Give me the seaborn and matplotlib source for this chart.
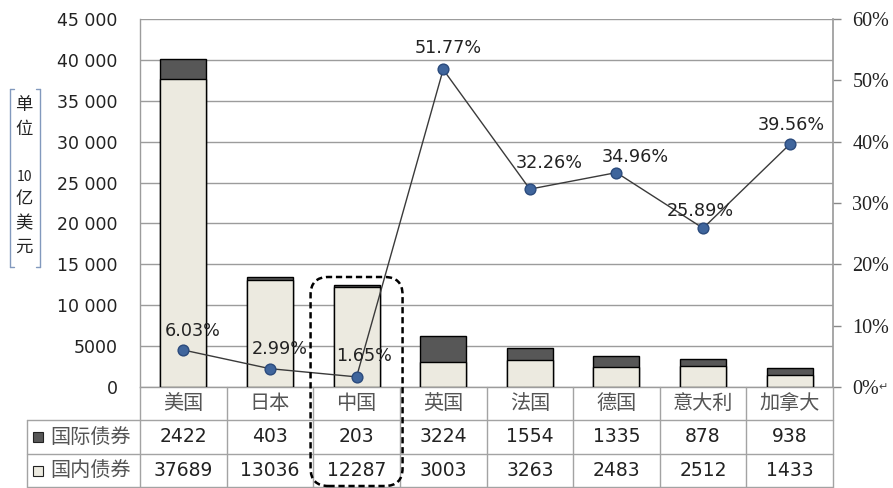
import numpy as np
import pandas as pd
import seaborn as sns
import matplotlib
matplotlib.use("Agg")
import matplotlib.pyplot as plt
from matplotlib.patches import FancyBboxPatch, Rectangle
from matplotlib.lines import Line2D

# ---------------- data ----------------
categories = ["美国", "日本", "中国", "英国", "法国", "德国", "意大利", "加拿大"]
intl_bonds = [2422, 403, 203, 3224, 1554, 1335, 878, 938]
domestic_bonds = [37689, 13036, 12287, 3003, 3263, 2483, 2512, 1433]
intl_share_pct = [6.03, 2.99, 1.65, 51.77, 32.26, 34.96, 25.89, 39.56]
left_ticks = [0, 5000, 10000, 15000, 20000, 25000, 30000, 35000, 40000, 45000]
left_tick_labels = ["0", "5000", "10 000", "15 000", "20 000", "25 000",
                    "30 000", "35 000", "40 000", "45 000"]
right_ticks = [0, 10, 20, 30, 40, 50, 60]
right_tick_labels = ["0%", "10%", "20%", "30%", "40%", "50%", "60%"]
row_labels = ["国际债券", "国内债券"]
ylabel_chars = ["单", "位", "10", "亿", "美", "元"]

# label offsets (pixels) for the percentage annotations
label_dx = [9, 10, 8, 5, 19, 19, -3, 2]
label_dy = [19, 20, 21, 21, 26, 16, 17, 19]

# ---------------- style ----------------
sns.set_theme(style="white")
plt.rcParams["font.family"] = ["DejaVu Sans", "Noto Sans CJK SC"]
CJK = ["Noto Sans CJK SC", "DejaVu Sans"]

W, H = 893, 488
fig = plt.figure(figsize=(W / 100, H / 100), dpi=100)
fig.patch.set_facecolor("white")


def fx(px):
    return px / W


def fy(py):
    return 1 - py / H


AX_L, AX_R, AX_T, AX_B = 140, 833, 19, 387
ax = fig.add_axes([fx(AX_L), fy(AX_B), fx(AX_R) - fx(AX_L), fy(AX_T) - fy(AX_B)])

df = pd.DataFrame({"country": categories, "intl": intl_bonds,
                   "dom": domestic_bonds, "pct": intl_share_pct})
df["total"] = df["intl"] + df["dom"]

GRID = "#9c9c9c"
TBL = "#a3a3a3"
DARK = "#575757"
LIGHT = "#ECEAE0"

sns.barplot(data=df, x="country", y="total", color=DARK, edgecolor="black",
            linewidth=1, width=0.53, saturation=1, ax=ax, zorder=2)
sns.barplot(data=df, x="country", y="dom", color=LIGHT, edgecolor="black",
            linewidth=1, width=0.53, saturation=1, ax=ax, zorder=3)

ax.set_xlim(-0.5, len(categories) - 0.5)
ax.set_ylim(0, 45000)
ax.set_yticks(left_ticks)
ax.set_yticklabels(left_tick_labels, fontsize=12.5, color="#222222")
ax.yaxis.grid(True, color=GRID, lw=1)
ax.xaxis.grid(False)
ax.set_axisbelow(True)
ax.set_xlabel("")
ax.set_ylabel("")
ax.tick_params(axis="x", length=0, labelbottom=False)
ax.tick_params(axis="y", length=0, pad=16)
for s in ["top", "right"]:
    ax.spines[s].set_visible(False)
for s in ["left", "bottom"]:
    ax.spines[s].set_color(GRID)
    ax.spines[s].set_linewidth(1)

# ---------------- line on right axis ----------------
ax2 = ax.twinx()
sns.lineplot(data=df, x="country", y="pct", ax=ax2, color="#3a3a3a", lw=1,
             sort=False, zorder=4)
sns.scatterplot(data=df, x="country", y="pct", ax=ax2, color="#3F659C",
                edgecolor="#2A4A7C", s=60, linewidth=1, zorder=5)
ax2.set_xlim(-0.5, len(categories) - 0.5)
ax2.set_ylim(0, 60)
ax2.set_yticks(right_ticks)
ax2.set_yticklabels(right_tick_labels, fontsize=14.5, color="#222222",
                    family=["Liberation Serif", "DejaVu Sans"])
ax2.tick_params(axis="y", length=6, direction="out", color="#888888", width=1, pad=8)
ax2.set_xlabel("")
ax2.set_ylabel("")
ax2.grid(False)
for s in ["top", "left", "bottom"]:
    ax2.spines[s].set_visible(False)
ax2.spines["right"].set_color(GRID)
# small paragraph mark after the "0%" label, as in the source document
fig.text(fx(878), fy(387), "↵", ha="left", va="center", fontsize=8, color="#444444")

for i, (c, v) in enumerate(zip(categories, intl_share_pct)):
    ax2.annotate(f"{v:.2f}%", xy=(c, v),
                 xytext=(label_dx[i] * 0.72, label_dy[i] * 0.72),
                 textcoords="offset points", ha="center", va="center",
                 fontsize=12.7, color="#222222", zorder=6)

# ---------------- data table under the axis ----------------
def px_of(xdata):
    return ax.transData.transform((xdata, 0))[0]


n = len(categories)
TBL_LEFT = 27
Y_CAT_TOP, Y_R1, Y_R2, Y_BOT = AX_B, 420, 454, 487
right_px = px_of(n - 0.5)

for k in range(n + 1):
    xp = px_of(k - 0.5)
    fig.add_artist(Line2D([fx(xp), fx(xp)], [fy(Y_CAT_TOP), fy(Y_BOT)],
                          color=TBL, lw=1))
fig.add_artist(Line2D([fx(TBL_LEFT), fx(TBL_LEFT)], [fy(Y_R1), fy(Y_BOT)],
                      color=TBL, lw=1))
for yp in [Y_R1, Y_R2, Y_BOT]:
    fig.add_artist(Line2D([fx(TBL_LEFT), fx(right_px)], [fy(yp), fy(yp)],
                          color=TBL, lw=1))

for k, c in enumerate(categories):
    xc = fx(px_of(k))
    fig.text(xc, fy((Y_CAT_TOP + Y_R1) / 2), c, ha="center", va="center",
             fontsize=14.5, color="#555555", family=CJK)
    fig.text(xc, fy((Y_R1 + Y_R2) / 2), str(intl_bonds[k]), ha="center",
             va="center", fontsize=13.5, color="#222222")
    fig.text(xc, fy((Y_R2 + Y_BOT) / 2), str(domestic_bonds[k]), ha="center",
             va="center", fontsize=13.5, color="#222222")

row_centers = [(Y_R1 + Y_R2) / 2, (Y_R2 + Y_BOT) / 2]
row_colors = [DARK, LIGHT]
for lab, yc, col in zip(row_labels, row_centers, row_colors):
    fig.add_artist(Rectangle((fx(33), fy(yc + 5)), fx(43) - fx(33), fy(yc - 5) - fy(yc + 5),
                             facecolor=col, edgecolor="#222222", lw=0.8))
    fig.text(fx(91), fy(yc), lab, ha="center", va="center", fontsize=14.5,
             color="#555555", family=CJK)

# ---------------- dashed highlight box around China ----------------
cx = px_of(categories.index("中国"))
half_w = 46
box_top, box_bot = 277, 486
fig.add_artist(FancyBboxPatch((fx(cx - half_w), fy(box_bot)),
                              fx(2 * half_w), fy(box_top) - fy(box_bot),
                              boxstyle="round,pad=0,rounding_size=0.02",
                              mutation_aspect=W / H,
                              facecolor="none", edgecolor="black", lw=1.8,
                              linestyle=(0, (2.5, 1.5)), zorder=10))

# ---------------- vertical unit label with bracket ----------------
char_y = [105, 129, 177, 199, 223, 247]
for ch, yp in zip(ylabel_chars, char_y):
    fs = 10 if ch.isdigit() else 12.5
    fig.text(fx(24), fy(yp), ch, ha="center", va="center", fontsize=fs,
             color="#222222", family=CJK)
BR = "#8299BD"
b_top, b_bot = 89, 267
for xl, dx in [(10, 4), (40, -4)]:
    fig.add_artist(Line2D([fx(xl), fx(xl)], [fy(b_top), fy(b_bot)], color=BR, lw=1))
    fig.add_artist(Line2D([fx(xl), fx(xl + dx)], [fy(b_top), fy(b_top)], color=BR, lw=1))
    fig.add_artist(Line2D([fx(xl), fx(xl + dx)], [fy(b_bot), fy(b_bot)], color=BR, lw=1))

fig.savefig("out.png", dpi=100, facecolor="white")
